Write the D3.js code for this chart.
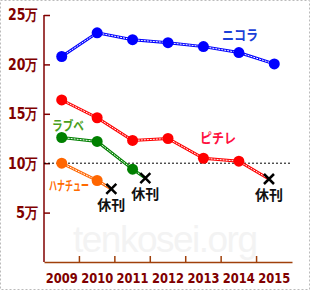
<!DOCTYPE html>
<html>
<head>
<meta charset="utf-8">
<script src="https://cdn.jsdelivr.net/npm/d3@7"></script>
<style>
  body { margin: 0; background: #fff; }
  svg { display: block; }
</style>
</head>
<body>
<div id="chart"></div>
<script>
let years = [2009, 2010, 2011, 2012, 2013, 2014, 2015];
let y_ticks = [5, 10, 15, 20, 25];

let nicola = [20.8, 23.2, 22.5, 22.2, 21.8, 21.2, 20.05];
let pichile = [16.4, 14.6, 12.3, 12.5, 10.5, 10.2, null];
let lovebe = [12.6, 12.2, 9.4, null, null, null, null];
let hanachu = [10.0, 8.25, null, null, null, null, null];

// where each magazine stopped (year position, value)
let stop_marks = [[2010.4, 7.4], [2011.36, 8.5], [2014.85, 8.4]];
let stop_label = "休刊";

let chart_width = 310, chart_height = 290;
let margin_left = 44, margin_top = 15;
let plot_width = 248, plot_height = 247;

let svg = d3.select("#chart").append("svg")
    .attr("width", chart_width)
    .attr("height", chart_height);

// dotted frame
svg.append("rect")
    .attr("x", 0.5).attr("y", 0.5)
    .attr("width", chart_width - 1).attr("height", chart_height - 1)
    .attr("fill", "none")
    .attr("stroke", "#bbb")
    .attr("stroke-dasharray", "2,2");

let g = svg.append("g")
    .attr("transform", "translate(" + margin_left + "," + margin_top + ")");

let xScale = d3.scaleBand().domain(years).range([0, plot_width]);
let xPos = d3.scaleLinear()
    .domain([2009, 2015])
    .range([xScale(2009) + xScale.bandwidth() / 2, xScale(2015) + xScale.bandwidth() / 2]);
let yScale = d3.scaleLinear().domain([0, 25]).range([plot_height, 0]);

// watermark
g.append("text")
    .attr("x", 29).attr("y", 237)
    .attr("font-family", "Liberation Sans, Arial, sans-serif")
    .attr("font-size", 37)
    .attr("textLength", 185)
    .attr("fill", "#f3f3f3")
    .text("tenkosei.org");

// y axis
let y_axis = g.append("g")
    .call(d3.axisLeft(yScale).tickValues(y_ticks).tickFormat(d => d + "万").tickSizeOuter(0));
y_axis.select(".domain").attr("stroke", "#800000").attr("stroke-width", 1.5)
    .attr("d", "M0," + yScale(25) + "V" + plot_height);
y_axis.selectAll(".tick line").attr("stroke", "#800000").attr("stroke-width", 1.5).attr("x2", 6);
y_axis.selectAll(".tick text")
    .attr("x", -6)
    .attr("fill", "#800000")
    .attr("font-family", "DejaVu Sans, sans-serif")
    .attr("font-weight", "bold")
    .attr("font-size", 15)
    .attr("textLength", d => d < 10 ? 22 : 30)
    .attr("lengthAdjust", "spacingAndGlyphs");

// x axis
let x_axis = g.append("g")
    .attr("transform", "translate(0," + plot_height + ")")
    .call(d3.axisBottom(xScale).tickSize(0).tickSizeOuter(0));
x_axis.select(".domain").attr("stroke", "#a0400a").attr("stroke-width", 1.5);
x_axis.selectAll(".tick text")
    .attr("dy", 18)
    .attr("fill", "#800000")
    .attr("font-family", "DejaVu Sans, sans-serif")
    .attr("font-weight", "bold")
    .attr("font-size", 14)
    .attr("textLength", 32)
    .attr("lengthAdjust", "spacingAndGlyphs");
x_axis.selectAll(".bandtick")
    .data(years.slice(1))
    .enter().append("line")
    .attr("x1", d => xScale(d)).attr("x2", d => xScale(d))
    .attr("y1", 0).attr("y2", -6)
    .attr("stroke", "#a0400a").attr("stroke-width", 1.5);

// 10万 reference line
g.append("line")
    .attr("x1", 0).attr("x2", plot_width)
    .attr("y1", yScale(10)).attr("y2", yScale(10))
    .attr("stroke", "#000")
    .attr("stroke-width", 1)
    .attr("stroke-dasharray", "2,2");

let series = [
    { values: nicola, color: "#0000ff", stop: null },
    { values: pichile, color: "#ff0000", stop: stop_marks[2] },
    { values: lovebe, color: "#008000", stop: stop_marks[1] },
    { values: hanachu, color: "#ff6600", stop: stop_marks[0] }
];

let line = d3.line().x(d => d[0]).y(d => d[1]);

series.forEach(function(s) {
    let pts = [];
    years.forEach(function(yr, i) {
        if (s.values[i] != null) pts.push([xPos(yr), yScale(s.values[i])]);
    });
    let line_pts = pts.slice();
    if (s.stop) line_pts.push([xPos(s.stop[0]), yScale(s.stop[1])]);

    g.append("path")
        .attr("d", line(line_pts))
        .attr("fill", "none")
        .attr("stroke", s.color)
        .attr("stroke-width", 3);
    g.append("path")
        .attr("d", line(line_pts))
        .attr("fill", "none")
        .attr("stroke", "#fff")
        .attr("stroke-width", 1)
        .attr("stroke-dasharray", "2,1");

    g.selectAll(null)
        .data(pts)
        .enter().append("circle")
        .attr("cx", d => d[0]).attr("cy", d => d[1])
        .attr("r", 5.5)
        .attr("fill", s.color);
});

// stop marks
stop_marks.forEach(function(m) {
    let cx = xPos(m[0]), cy = yScale(m[1]);
    g.append("path")
        .attr("d", "M" + (cx - 5) + "," + (cy - 5) + "L" + (cx + 5) + "," + (cy + 5) +
                   "M" + (cx + 5) + "," + (cy - 5) + "L" + (cx - 5) + "," + (cy + 5))
        .attr("stroke", "#000")
        .attr("stroke-width", 2.5);
    g.append("text")
        .attr("x", cx).attr("y", cy + 21)
        .attr("text-anchor", "middle")
        .attr("font-family", "Noto Sans CJK JP, sans-serif")
        .attr("font-weight", "bold")
        .attr("font-size", 14)
        .attr("fill", "#111")
        .text(stop_label);
});

// series labels
let labels = [
    { text: "ニコラ", x: 178, y: 25, w: 36, color: "#1a40d8", size: 14 },
    { text: "ピチレ", x: 156, y: 128, w: 36, color: "#ff1040", size: 14 },
    { text: "ラブベ", x: 8, y: 115, w: 32, color: "#4aa020", size: 13 },
    { text: "ハナチュー", x: 5, y: 175, w: 40, color: "#ff6a00", size: 13 }
];
g.selectAll(".series_label")
    .data(labels)
    .enter().append("text")
    .attr("class", "series_label")
    .attr("x", d => d.x).attr("y", d => d.y)
    .attr("textLength", d => d.w)
    .attr("lengthAdjust", "spacingAndGlyphs")
    .attr("font-family", "Noto Sans CJK JP, sans-serif")
    .attr("font-weight", "bold")
    .attr("font-size", d => d.size)
    .attr("fill", d => d.color)
    .text(d => d.text);
</script>
</body>
</html>
